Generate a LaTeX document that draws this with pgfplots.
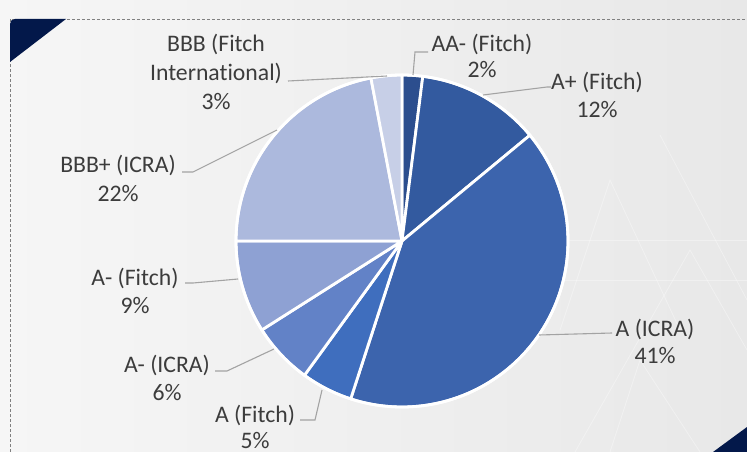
\documentclass[border=0pt]{standalone}
\usepackage{pgfplots}
\pgfplotsset{compat=1.18}
\usepackage{fontspec}
\setmainfont{Carlito}[Ligatures={NoCommon}]
\definecolor{navy}{HTML}{03184A}
\definecolor{txt}{HTML}{3C3C3C}
\definecolor{lead}{HTML}{A3A3A3}
\definecolor{bgL}{HTML}{F6F6F6}
\definecolor{bgR}{HTML}{E8E8E8}
\definecolor{c1}{HTML}{2C4E8E}
\definecolor{c2}{HTML}{335A9F}
\definecolor{c3}{HTML}{3C64AD}
\definecolor{c4}{HTML}{3F6EBE}
\definecolor{c5}{HTML}{6282C7}
\definecolor{c6}{HTML}{8EA1D3}
\definecolor{c7}{HTML}{ACB9DD}
\definecolor{c8}{HTML}{C7CFE7}
% slice: start (percent), value (percent), colour
\newcommand{\slice}[3]{%
  \filldraw[fill=#3, draw=white, line width=2.8bp, line join=round]
    (axis cs:402,241) -- ++({90-3.6*(#1)}:166bp)
    arc[start angle={90-3.6*(#1)}, delta angle={-3.6*(#2)}, radius=166bp] -- cycle;}
\begin{document}
\begin{tikzpicture}[font=\fontsize{23.8}{28}\selectfont]
\begin{axis}[width=747bp, height=452bp, scale only axis,
  xmin=0, xmax=747, ymin=0, ymax=452, y dir=reverse,
  hide axis, clip=false]
% background
\shade[left color=bgL, right color=bgR] (axis cs:0,0) rectangle (axis cs:747,452);
% faint decorative lines
\begin{scope}[white, opacity=0.35, line width=0.8bp]
\draw (axis cs:575,452) -- (axis cs:690,250) -- (axis cs:747,350);
\draw (axis cs:610,452) -- (axis cs:640,360) -- (axis cs:700,452);
\draw (axis cs:560,330) -- (axis cs:610,180) -- (axis cs:680,330);
\draw (axis cs:660,135) -- (axis cs:747,300);
\draw (axis cs:560,240) -- (axis cs:747,240);
\draw (axis cs:560,280) -- (axis cs:747,280);
\end{scope}
% dashed frame
\draw[gray, line width=0.9bp, dash pattern=on 3bp off 2bp] (axis cs:10,452) -- (axis cs:10,19) -- (axis cs:747,19);
% corner triangles
\fill[navy] (axis cs:10,62) [rounded corners=5bp] -- (axis cs:10,19) [sharp corners] -- (axis cs:66,19) -- cycle;
\fill[navy] (axis cs:713,452) -- (axis cs:747,427) -- (axis cs:747,452) -- cycle;
% pie slices (values in percent)
\slice{0}{2}{c1}
\slice{2}{12}{c2}
\slice{14}{41}{c3}
\slice{55}{5}{c4}
\slice{60}{6}{c5}
\slice{66}{9}{c6}
\slice{75}{22}{c7}
\slice{97}{3}{c8}
\draw[white, line width=2.8bp] (axis cs:402,241) circle[radius=166bp];
% leader lines
\draw[lead, line width=1.1bp] (axis cs:413,75) -- (axis cs:415,52) -- (axis cs:428,52);
\draw[lead, line width=1.1bp] (axis cs:483,95) -- (axis cs:547,87) -- (axis cs:551,87);
\draw[lead, line width=1.1bp] (axis cs:539,335) -- (axis cs:612,333);
\draw[lead, line width=1.1bp] (axis cs:322,390) -- (axis cs:315,420) -- (axis cs:300,420);
\draw[lead, line width=1.1bp] (axis cs:274,349) -- (axis cs:227,371) -- (axis cs:215,371);
\draw[lead, line width=1.1bp] (axis cs:238,279) -- (axis cs:193,283) -- (axis cs:185,283);
\draw[lead, line width=1.1bp] (axis cs:277,130) -- (axis cs:193,172) -- (axis cs:182,172);
\draw[lead, line width=1.1bp] (axis cs:387,76) -- (axis cs:288,81);
% labels
\begin{scope}[every node/.style={text=txt, anchor=base, inner sep=0pt}]
\node at (axis cs:482,52) {AA- (Fitch)};
\node at (axis cs:482,78) {2\%};
\node at (axis cs:597,90) {A+ (Fitch)};
\node at (axis cs:597,118) {12\%};
\node at (axis cs:655,336) {A (ICRA)};
\node at (axis cs:655,363) {41\%};
\node at (axis cs:255,422) {A (Fitch)};
\node at (axis cs:255,448) {5\%};
\node at (axis cs:167,372) {A- (ICRA)};
\node at (axis cs:167,400) {6\%};
\node at (axis cs:135,285) {A- (Fitch)};
\node at (axis cs:135,313) {9\%};
\node at (axis cs:118,172) {BBB+ (ICRA)};
\node at (axis cs:118,201) {22\%};
\node at (axis cs:216,52) {BBB (Fitch};
\node at (axis cs:216,81) {International)};
\node at (axis cs:216,110) {3\%};
\end{scope}
\end{axis}
\pgfresetboundingbox
\path (current axis.south west) rectangle (current axis.north east);
\end{tikzpicture}
\end{document}
